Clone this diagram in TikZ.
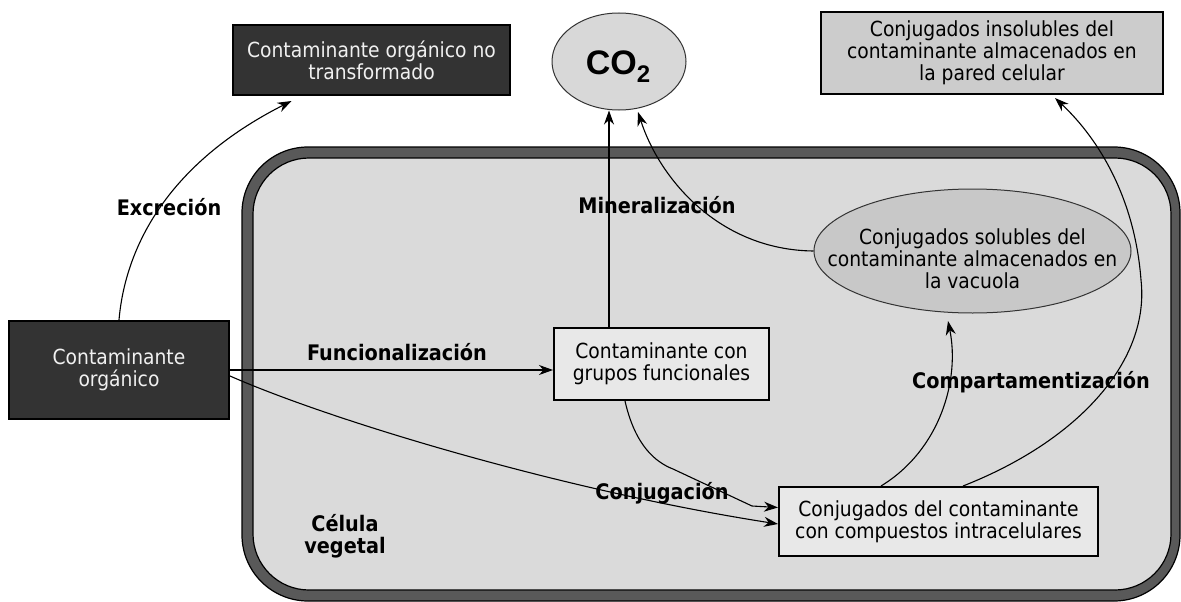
\documentclass[tikz,border=0pt]{standalone}
\usepackage{fontspec}
\setmainfont{DejaVu Sans Condensed}
\newfontfamily\cofont{Liberation Sans}
\usetikzlibrary{arrows.meta,shapes.geometric}

\definecolor{darkbox}{HTML}{333333}
\definecolor{wall}{HTML}{595959}
\definecolor{cyto}{HTML}{DADADA}
\definecolor{lightbox}{HTML}{E8E8E8}
\definecolor{midbox}{HTML}{CCCCCC}
\definecolor{vacuole}{HTML}{C8C8C8}
\definecolor{gasfill}{HTML}{D8D8D8}

\tikzset{
  boxtext/.style={font=\fontsize{20.8}{22}\selectfont, align=center, inner sep=0pt},
  darknode/.style={boxtext, draw=black, line width=2pt, fill=darkbox, text=white!94!black},
  lightnode/.style={boxtext, draw=black, line width=2pt, fill=lightbox},
  greynode/.style={boxtext, draw=black, line width=2pt, fill=midbox},
  ovalnode/.style={ellipse, draw=black!80, line width=1pt, inner sep=0pt},
  proc/.style={font=\bfseries\fontsize{21.4}{22}\selectfont, align=center, inner sep=0pt},
  flow/.style={line width=1.1pt, -{Stealth[length=14pt,width=10pt,inset=4.5pt]}},
}

\begin{document}
\begin{tikzpicture}[x=1pt,y=-1pt]
\useasboundingbox (0,0) rectangle (1181,602);
\fill[white] (0,0) rectangle (1181,602);

% plant cell: thick wall and cytoplasm
\draw[fill=wall, line width=1.2pt, rounded corners=66pt] (242,147) rectangle (1180,601);
\draw[fill=cyto, line width=1.2pt, rounded corners=56pt] (253,158) rectangle (1171,590);

% nodes
\node[darknode, minimum width=277pt, minimum height=70pt] (untrans) at (371.5,60)
  {Contaminante orgánico no\\transformado};
\node[ovalnode, fill=gasfill, minimum width=134pt, minimum height=97pt] (co2) at (619,61.5) {};
\node[font=\cofont\bfseries\fontsize{34}{34}\selectfont, inner sep=0pt] (co2txt) at (618,67)
  {CO\raisebox{-8pt}{\fontsize{24}{24}\selectfont 2}};
\node[greynode, minimum width=342pt, minimum height=82pt] (insol) at (992,53)
  {Conjugados insolubles del\\contaminante almacenados en\\la pared celular};
\node[darknode, minimum width=220pt, minimum height=98pt] (organic) at (119,370)
  {Contaminante\\orgánico};
\node[lightnode, minimum width=215pt, minimum height=72pt] (func) at (661.5,364)
  {Contaminante con\\grupos funcionales};
\node[ovalnode, fill=vacuole, minimum width=317pt, minimum height=124pt] (sol) at (972.5,251) {};
\node[boxtext] (soltxt) at (972.5,259)
  {Conjugados solubles del\\contaminante almacenados en\\la vacuola};
\node[lightnode, minimum width=319pt, minimum height=69pt] (conj) at (938.5,521.5)
  {Conjugados del contaminante\\con compuestos intracelulares};

% process labels
\node[proc] (lexc) at (169,207) {Excreción};
\node[proc] (lmin) at (657,205) {Mineralización};
\node[proc] (lfun) at (397,352) {Funcionalización};
\node[proc] (lcon) at (662,493) {Conjugación};
\node[proc] (lcomp) at (1031,382) {Compartamentización};
\node[proc] (lcell) at (345,536) {Célula\\vegetal};

% arrow end points
\coordinate (excEnd) at ([xshift=-80pt,yshift=-5pt]untrans.south);
\coordinate (minStart) at ([xshift=-52.5pt]func.north);
\coordinate (solEnd) at (638,112);
\coordinate (funOut) at ([xshift=-36.5pt]func.south);
\coordinate (compEnd) at (948,321);
\coordinate (insolEnd) at (1055,98);

% connectors
\draw[flow] (organic.north) .. controls (125,250) and (165,165) .. (excEnd);
\draw[flow] (organic.east) -- (organic.east -| func.west);
\draw[flow] (minStart) -- (minStart |- co2.south);
\draw[flow] (sol.west) .. controls (720,250) and (660,180) .. (solEnd);
\draw[flow] ([yshift=-6pt]organic.east) .. controls (330,420) and (560,490) .. ([yshift=-2.5pt]conj.west);
\draw[flow] (funOut) .. controls (635,445) and (655,462) .. (673,469) -- (752,506) -- ([yshift=14pt]conj.west);
\draw[flow] ([xshift=-57.5pt]conj.north) .. controls (940,450) and (960,380) .. (compEnd);
\draw[flow] ([xshift=24.5pt]conj.north) .. controls (1080,440) and (1150,360) .. (1141,280)
  .. controls (1135,200) and (1100,140) .. (insolEnd);
\end{tikzpicture}
\end{document}
